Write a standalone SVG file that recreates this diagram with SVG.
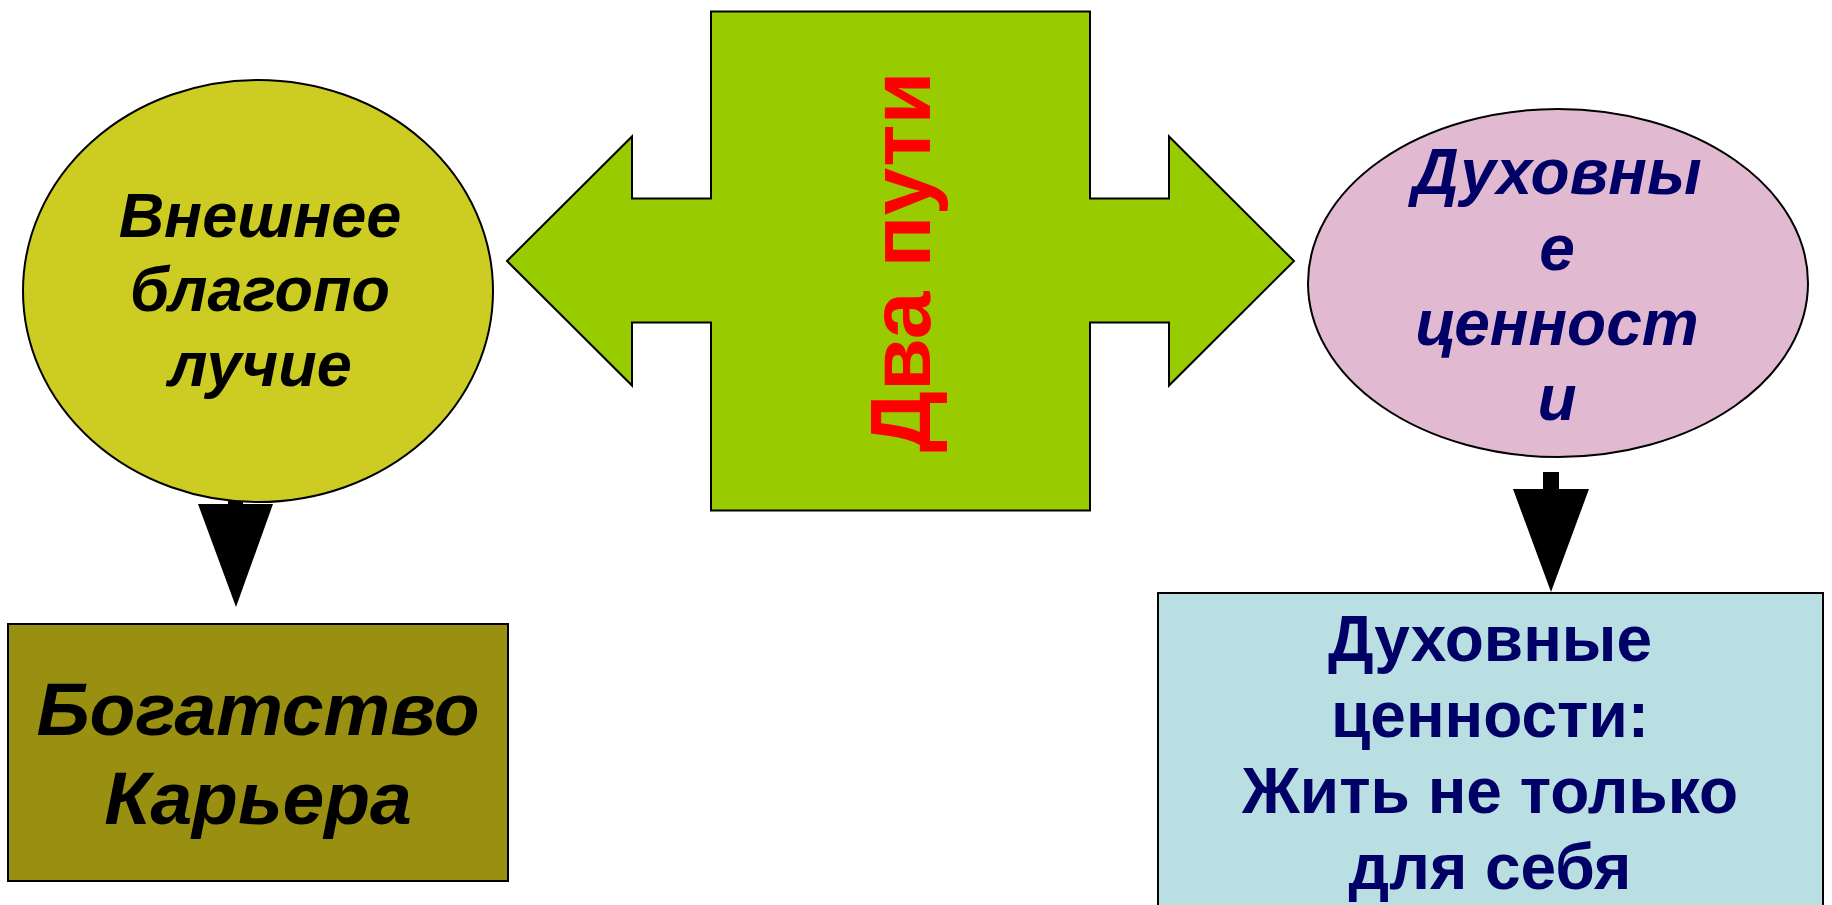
<svg xmlns="http://www.w3.org/2000/svg" width="1832" height="905" viewBox="0 0 1832 905">
<style>
.t{font-family:"Liberation Sans",Arial,sans-serif;font-weight:bold;text-anchor:middle}
.it{font-style:italic}
.edge{fill:#000;stroke:none}
.sh{stroke:#000;stroke-width:2}
</style>
<rect width="1832" height="905" fill="#fff"/>
<g id="connectors">
<path class="edge" d="M228,486 H243 V504 H273 L236,607 L198,504 H228 Z"/>
<path class="edge" d="M1543,472 H1559 V489 H1589 L1551,592 L1513,489 H1543 Z"/>
</g>
<g id="center">
<polygon class="sh" fill="#99CC00" stroke-width="1.5" points="711,11.5 1090,11.5 1090,198.5 1169,198.5 1169,136.5 1294,261 1169,385.5 1169,322.5 1090,322.5 1090,510.5 711,510.5 711,322.5 632,322.5 632,385.5 507,261 632,136.5 632,198.5 711,198.5"/>
<text class="t" font-size="86" fill="#FF0000" transform="translate(930,262) rotate(-90)">Два пути</text>
</g>
<g id="outer">
<ellipse class="sh" cx="258" cy="291" rx="235" ry="211" fill="#CCCC22"/>
<text class="t it" font-size="63" fill="#000"><tspan x="260" y="237">Внешнее</tspan><tspan x="260" y="311">благопо</tspan><tspan x="260" y="386">лучие</tspan></text>
</g>
<g id="spiritual">
<ellipse class="sh" cx="1558" cy="283" rx="250" ry="174" fill="#E1BAD1"/>
<text class="t it" font-size="64" fill="#000066"><tspan x="1557" y="194">Духовны</tspan><tspan x="1557" y="270">е</tspan><tspan x="1557" y="345">ценност</tspan><tspan x="1557" y="420">и</tspan></text>
</g>
<g id="wealth">
<rect class="sh" x="8" y="624" width="500" height="257" fill="#998F11"/>
<text class="t it" font-size="75" fill="#000"><tspan x="258" y="735">Богатство</tspan><tspan x="258" y="824">Карьера</tspan></text>
</g>
<g id="values">
<rect class="sh" x="1158" y="593" width="665" height="330" fill="#BADFE3"/>
<text class="t" font-size="64" fill="#000066"><tspan x="1490" y="661">Духовные</tspan><tspan x="1490" y="737">ценности:</tspan><tspan x="1490" y="813">Жить не только</tspan><tspan x="1490" y="889">для себя</tspan></text>
</g>
</svg>
